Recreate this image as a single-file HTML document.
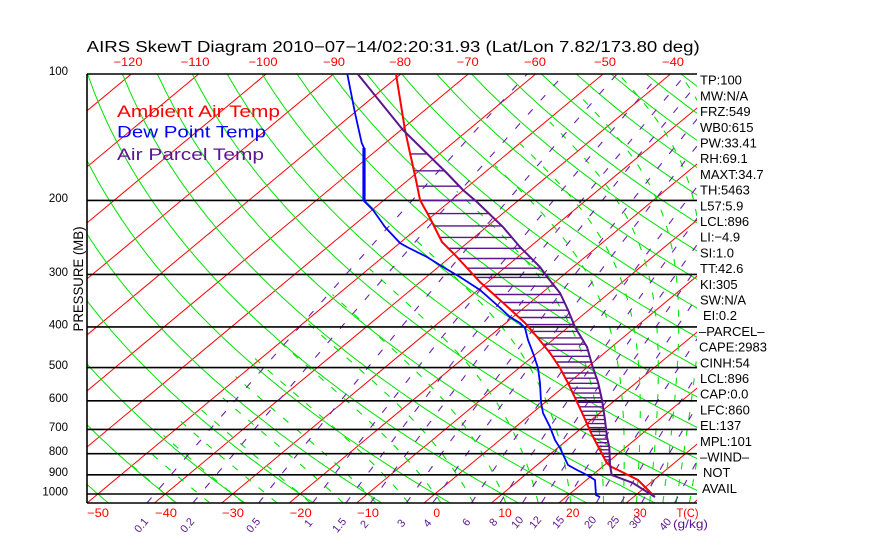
<!DOCTYPE html>
<html><head><meta charset="utf-8">
<style>
html,body{margin:0;padding:0;background:#fff;}
svg{display:block;}
text{font-family:"Liberation Sans",sans-serif;}
</style></head><body>
<svg id="s" width="870" height="560" viewBox="0 0 870 560" xmlns="http://www.w3.org/2000/svg">
<defs><clipPath id="c"><rect x="87" y="74" width="610" height="429"/></clipPath></defs>
<rect x="0" y="0" width="870" height="560" fill="#fff"/>
<g id="grid" clip-path="url(#c)" fill="none"></g>

<g stroke="#000" stroke-width="1.6" fill="none">
<line x1="87" y1="74" x2="697" y2="74"/>
<line x1="87" y1="200.4" x2="697" y2="200.4"/>
<line x1="87" y1="274.4" x2="697" y2="274.4"/>
<line x1="87" y1="326.9" x2="697" y2="326.9"/>
<line x1="87" y1="367.6" x2="697" y2="367.6"/>
<line x1="87" y1="400.8" x2="697" y2="400.8"/>
<line x1="87" y1="429.4" x2="697" y2="429.4"/>
<line x1="87" y1="453.7" x2="697" y2="453.7"/>
<line x1="87" y1="474.8" x2="697" y2="474.8"/>
<line x1="87" y1="494" x2="697" y2="494"/>
<line x1="87" y1="503" x2="697" y2="503"/>
<line x1="87" y1="74" x2="87" y2="503"/>
</g>

<g id="hatch" stroke="#5a168c" stroke-width="1.4" clip-path="url(#c)"></g>
<polyline id="red" fill="none" stroke="#ff0000" stroke-width="2" points="396,74 405,130 410,153 416,180 420,200 430,218 442,242 455,255 480,282 511,310 525,323 538,338 550,353 560,368 568,383 577,402 584,417 591,433 600,450 606.7,463 611.7,467 618,470 638,480 645,487 654,496"/>
<polyline id="blue" fill="none" stroke="#0000ff" stroke-width="1.8" points="347.3,74 355,113 361.7,143 364,148 364,201 373,210 385,227 400,243 407,247 427,257 443,267 460,277 480,290 497,305 510,317 520,323 525,328 528,340 533,353 538,368 540,383 541,402 543,413 550,427 555,440 560,448 568,465 577,470 587,475 595,480 596,495 600,497"/>
<line x1="364" y1="148" x2="364" y2="201" stroke="#0000ff" stroke-width="3.2"/>
<polyline id="purp" fill="none" stroke="#5a168c" stroke-width="2" points="357.7,74 403,130 446.7,173 463,190 477,202 503,227 520,247 540,267 548,278 560,293 568,310 575,327 587,347 593,368 598,382 602,400 605,420 607,437 609.3,447 610,465 611.7,475 633,483 655,497"/>

<!-- Title -->
<text x="86.7" y="52" font-size="15.5" textLength="613" lengthAdjust="spacingAndGlyphs" fill="#000">AIRS SkewT Diagram 2010−07−14/02:20:31.93 (Lat/Lon 7.82/173.80 deg)</text>

<!-- top temperature labels -->
<g fill="#ff0000" font-size="12" text-anchor="middle">
<text x="128" y="66" textLength="29" lengthAdjust="spacingAndGlyphs">−120</text>
<text x="195" y="66" textLength="29" lengthAdjust="spacingAndGlyphs">−110</text>
<text x="263" y="66" textLength="29" lengthAdjust="spacingAndGlyphs">−100</text>
<text x="334" y="66" textLength="22" lengthAdjust="spacingAndGlyphs">−90</text>
<text x="400" y="66" textLength="22" lengthAdjust="spacingAndGlyphs">−80</text>
<text x="467.7" y="66" textLength="22" lengthAdjust="spacingAndGlyphs">−70</text>
<text x="535" y="66" textLength="22" lengthAdjust="spacingAndGlyphs">−60</text>
<text x="605" y="66" textLength="22" lengthAdjust="spacingAndGlyphs">−50</text>
<text x="673" y="66" textLength="22" lengthAdjust="spacingAndGlyphs">−40</text>
</g>

<!-- bottom temperature labels -->
<g fill="#ff0000" font-size="12" text-anchor="middle">
<text x="98" y="517" textLength="22" lengthAdjust="spacingAndGlyphs">−50</text>
<text x="166" y="517" textLength="22" lengthAdjust="spacingAndGlyphs">−40</text>
<text x="233" y="517" textLength="22" lengthAdjust="spacingAndGlyphs">−30</text>
<text x="300.7" y="517" textLength="22" lengthAdjust="spacingAndGlyphs">−20</text>
<text x="368" y="517" textLength="22" lengthAdjust="spacingAndGlyphs">−10</text>
<text x="436.7" y="517">0</text>
<text x="505" y="517">10</text>
<text x="572.7" y="517">20</text>
<text x="640" y="517">30</text>
<text x="687.5" y="517" textLength="22" lengthAdjust="spacingAndGlyphs">T(C)</text>
</g>

<!-- pressure labels -->
<g fill="#000" font-size="11.5" text-anchor="end">
<text x="68" y="75">100</text>
<text x="68" y="202">200</text>
<text x="68" y="276">300</text>
<text x="68" y="328.5">400</text>
<text x="68" y="369">500</text>
<text x="68" y="402">600</text>
<text x="68" y="431">700</text>
<text x="68" y="455">800</text>
<text x="68" y="476">900</text>
<text x="68" y="495.5">1000</text>
</g>
<text transform="translate(83,279) rotate(-90)" text-anchor="middle" font-size="14" textLength="105" lengthAdjust="spacingAndGlyphs" fill="#000">PRESSURE (MB)</text>

<!-- legend -->
<text x="117" y="117" font-size="17" fill="#ff0000" textLength="163" lengthAdjust="spacingAndGlyphs">Ambient Air Temp</text>
<text x="117" y="137.5" font-size="17" fill="#0000ff" textLength="149" lengthAdjust="spacingAndGlyphs">Dew Point Temp</text>
<text x="117" y="160" font-size="17" fill="#5a168c" textLength="147" lengthAdjust="spacingAndGlyphs">Air Parcel Temp</text>

<!-- right side labels -->
<g fill="#000" font-size="13">
<text x="700" y="84.7">TP:100</text>
<text x="700" y="100.4">MW:N/A</text>
<text x="700" y="116.1">FRZ:549</text>
<text x="700" y="131.8">WB0:615</text>
<text x="700" y="147.5">PW:33.41</text>
<text x="700" y="163.2">RH:69.1</text>
<text x="700" y="178.9">MAXT:34.7</text>
<text x="700" y="194.6">TH:5463</text>
<text x="700" y="210.3">L57:5.9</text>
<text x="700" y="226">LCL:896</text>
<text x="700" y="241.7">LI:−4.9</text>
<text x="700" y="257.4">SI:1.0</text>
<text x="700" y="273.1">TT:42.6</text>
<text x="700" y="288.8">KI:305</text>
<text x="700" y="304.5">SW:N/A</text>
<text x="703" y="320.2">EI:0.2</text>
<text x="699" y="335.9">–PARCEL–</text>
<text x="699" y="351.6">CAPE:2983</text>
<text x="700" y="367.3">CINH:54</text>
<text x="700" y="383">LCL:896</text>
<text x="700" y="398.7">CAP:0.0</text>
<text x="700" y="414.4">LFC:860</text>
<text x="700" y="430.1">EL:137</text>
<text x="700" y="445.8">MPL:101</text>
<text x="700" y="461.5">–WIND–</text>
<text x="703" y="477.2">NOT</text>
<text x="702" y="492.9">AVAIL</text>
</g>

<!-- mixing ratio labels -->
<g fill="#5a168c" font-size="11" text-anchor="middle">
<text transform="translate(141,525) rotate(-50)" dy="4">0.1</text>
<text transform="translate(187,525) rotate(-50)" dy="4">0.2</text>
<text transform="translate(253,525) rotate(-50)" dy="4">0.5</text>
<text transform="translate(308,523) rotate(-50)" dy="4">1</text>
<text transform="translate(339,525) rotate(-50)" dy="4">1.5</text>
<text transform="translate(364,524) rotate(-50)" dy="4">2</text>
<text transform="translate(401,523) rotate(-50)" dy="4">3</text>
<text transform="translate(427,523) rotate(-50)" dy="4">4</text>
<text transform="translate(466,522) rotate(-50)" dy="4">6</text>
<text transform="translate(493,522) rotate(-50)" dy="4">8</text>
<text transform="translate(517,522) rotate(-50)" dy="4">10</text>
<text transform="translate(535,522) rotate(-50)" dy="4">12</text>
<text transform="translate(558,522) rotate(-50)" dy="4">15</text>
<text transform="translate(590,522) rotate(-50)" dy="4">20</text>
<text transform="translate(613,522) rotate(-50)" dy="4">25</text>
<text transform="translate(635,522) rotate(-50)" dy="4">30</text>
<text transform="translate(665,524) rotate(-50)" dy="4">40</text>
</g>
<text x="673" y="528" font-size="12" fill="#5a168c" textLength="35" lengthAdjust="spacingAndGlyphs">(g/kg)</text>
</svg>

<script>
(function(){
var NS='http://www.w3.org/2000/svg';
function yP(p){return 74+182.4*Math.log(p/100);}
function xT(T,y){return 87+6.74*(T+50)+(503-y)*1.203;}
function pth(pts){var s='';for(var i=0;i<pts.length;i++){s+=(i?'L':'M')+pts[i][0].toFixed(1)+','+pts[i][1].toFixed(1);}return s;}
function add(g,d,a){var e=document.createElementNS(NS,'path');e.setAttribute('d',d);for(var k in a)e.setAttribute(k,a[k]);g.appendChild(e);}
var g=document.getElementById('grid');
var GREEN='#00e400';
// isotherms
for(var T=-180;T<=60;T+=10){add(g,pth([[xT(T,503),503],[xT(T,74),74]]),{stroke:'#ff0000','stroke-width':'1'});}
// dry adiabats
for(var th=-70;th<=220;th+=10){var pts=[];for(var p=1050;p>=100;p-=10){var t=(th+273.15)*Math.pow(p/1000,0.2857)-273.15;var y=yP(p);pts.push([xT(t,y),y]);}add(g,pth(pts),{stroke:GREEN,'stroke-width':'1'});}
// moist adiabats
function es(T){return 6.112*Math.exp(17.67*T/(T+243.5));}
function dTdp(T,p){var Tk=T+273.15,e=es(T),r=0.622*e/(p-e),L=2.501e6,Rd=287.04,cp=1005.7;return (Rd*Tk+L*r)/(p*(cp+L*L*r*0.622/(Rd*Tk*Tk)));}
function step(T,p,dp){var k=dTdp(T,p);return T+dp*dTdp(T+0.5*dp*k,p+0.5*dp);}
var tws=[];
for(var a=-40;a<=25;a+=5)tws.push(a);
for(var b=28;b<=44;b+=2)tws.push(b);
for(var j=0;j<tws.length;j++){
  var tw=tws[j];
  var T0=tw,p0=1000;
  while(p0<1050){T0=step(T0,p0,5);p0+=5;}
  var pts=[],Tc=T0,pc=1050;
  while(pc>=100){var y=yP(pc);if(Tc<-51)break;pts.push([xT(Tc,y),y]);Tc=step(Tc,pc,-5);pc-=5;}
  if(pts.length>1)add(g,pth(pts),{stroke:GREEN,'stroke-width':'1.1','stroke-dasharray':'7 10'});
}
// mixing ratio lines
var ws=[0.1,0.2,0.5,1,1.5,2,3,4,6,8,10,12,15,20,25,30,40];
for(var i=0;i<ws.length;i++){var w=ws[i],pts=[];for(var p=1050;p>=100;p-=10){var e=w*p/(622+w),l=Math.log(e/6.112),td=243.5*l/(17.67-l),y=yP(p);pts.push([xT(td,y),y]);}
add(g,pth(pts),{stroke:'#6a1fae','stroke-width':'1.1','stroke-dasharray':'7 12'});}
// hatch
function parse(id){var s=document.getElementById(id).getAttribute('points').trim().split(/\s+/);return s.map(function(q){var a=q.split(',');return [parseFloat(a[0]),parseFloat(a[1])];});}
var R=parse('red'),P=parse('purp');
function interp(pts,y){for(var i=0;i<pts.length-1;i++){var a=pts[i],b=pts[i+1];if(y>=a[1]&&y<=b[1]){return a[0]+(b[0]-a[0])*(y-a[1])/(b[1]-a[1]);}}return null;}
var hg=document.getElementById('hatch');
for(var p=155;p<=860;p+=15){var y=yP(p),xr=interp(R,y),xp=interp(P,y);if(xr!==null&&xp!==null&&xp>xr+1){add(hg,'M'+xr.toFixed(1)+','+y.toFixed(1)+'L'+xp.toFixed(1)+','+y.toFixed(1),{});}}
})();
</script>
</body></html>
